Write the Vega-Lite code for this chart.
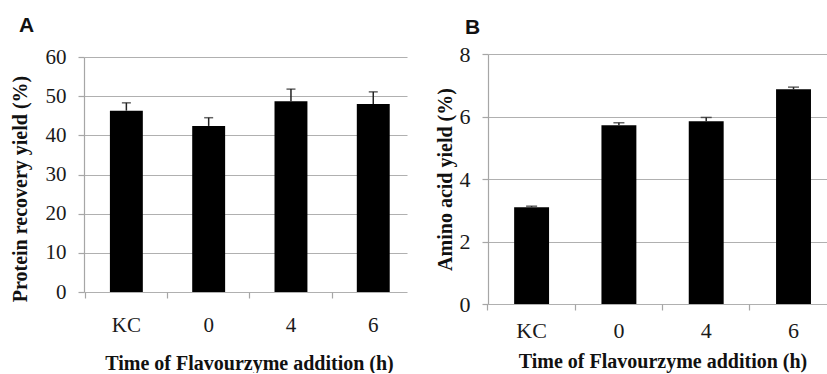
{
  "$schema": "https://vega.github.io/schema/vega-lite/v6.json",
  "background": "white",
  "padding": {"left": 10, "top": 15, "right": 0, "bottom": 0},
  "spacing": 28,
  "config": {
    "view": {"stroke": null},
    "font": "Liberation Serif",
    "axis": {
      "gridColor": "#b0b0b0", "gridWidth": 1.2,
      "domainColor": "#a6a6a6", "domainWidth": 1.2,
      "tickColor": "#a6a6a6", "tickWidth": 1.2, "tickSize": 6,
      "labelColor": "#1a1a1a", "labelFont": "Liberation Serif", "labelFontSize": 21, "labelOverlap": false,
      "titleFont": "Liberation Serif", "titleFontWeight": "bold", "titleFontSize": 20, "titleColor": "#111111"
    },
    "title": {"font": "Liberation Sans", "fontSize": 21, "fontWeight": "bold", "anchor": "start", "frame": "group", "color": "#111111"}
  },
  "hconcat": [
    {
      "title": {"text": "A", "dx": -65, "offset": 10},
      "width": 323,
      "height": 238,
      "data": {"values": [
        {"time": "KC", "mean": 46.3, "hi": 48.3},
        {"time": "0", "mean": 42.4, "hi": 44.5},
        {"time": "4", "mean": 48.7, "hi": 51.8},
        {"time": "6", "mean": 48.0, "hi": 51.1}
      ]},
      "encoding": {
        "x": {
          "field": "time", "type": "nominal", "sort": null,
          "scale": {"paddingInner": 0.6, "paddingOuter": 0.2624, "align": 0.6},
          "axis": {"bandPosition": -0.75, "labelAngle": 0, "domain": false, "grid": false,
                   "title": "Time of Flavourzyme addition (h)", "labelPadding": 16, "titlePadding": 18, "titleX": 165}
        }
      },
      "layer": [
        {
          "mark": {"type": "bar", "color": "black"},
          "encoding": {"y": {"field": "mean", "type": "quantitative",
            "scale": {"domain": [0, 60], "range": [238, 3], "nice": false},
            "axis": {"values": [0, 10, 20, 30, 40, 50, 60], "grid": true, "labelPadding": 12, "titlePadding": 15, "titleY": 134.5},
            "title": "Protein recovery yield (%)"}}
        },
        {
          "mark": {"type": "rule", "color": "#222222", "strokeWidth": 1.5},
          "encoding": {"y": {"field": "mean", "type": "quantitative", "title": "Protein recovery yield (%)",
            "axis": {"values": [0, 10, 20, 30, 40, 50, 60], "grid": true, "labelPadding": 12, "titlePadding": 15, "titleY": 134.5}},
            "y2": {"field": "hi"}}
        },
        {
          "mark": {"type": "tick", "color": "#222222", "thickness": 1.5, "size": 9},
          "encoding": {"y": {"field": "hi", "type": "quantitative", "title": "Protein recovery yield (%)",
            "axis": {"values": [0, 10, 20, 30, 40, 50, 60], "grid": true, "labelPadding": 12, "titlePadding": 15, "titleY": 134.5}}}
        }
      ]
    },
    {
      "title": {"text": "B", "dx": -23, "offset": 5},
      "width": 339,
      "height": 250,
      "data": {"values": [
        {"time": "KC", "mean": 3.10, "hi": 3.13},
        {"time": "0", "mean": 5.72, "hi": 5.80},
        {"time": "4", "mean": 5.85, "hi": 5.97},
        {"time": "6", "mean": 6.87, "hi": 6.94}
      ]},
      "encoding": {
        "x": {
          "field": "time", "type": "nominal", "sort": null,
          "scale": {"paddingInner": 0.6, "paddingOuter": 0.2415, "align": 0.62},
          "axis": {"bandPosition": -0.75, "labelAngle": 0, "domain": false, "grid": false,
                   "title": "Time of Flavourzyme addition (h)", "labelPadding": 10, "titlePadding": 10, "titleX": 174.5, "labelFontSize": 22}
        }
      },
      "layer": [
        {
          "mark": {"type": "bar", "color": "black"},
          "encoding": {"y": {"field": "mean", "type": "quantitative",
            "scale": {"domain": [0, 8], "nice": false},
            "axis": {"values": [0, 2, 4, 6, 8], "grid": true, "labelPadding": 12, "titlePadding": 4, "labelFontSize": 22},
            "title": "Amino acid yield (%)"}}
        },
        {
          "mark": {"type": "rule", "color": "#222222", "strokeWidth": 1.5},
          "encoding": {"y": {"field": "mean", "type": "quantitative", "title": "Amino acid yield (%)",
            "axis": {"values": [0, 2, 4, 6, 8], "grid": true, "labelPadding": 12, "titlePadding": 4, "labelFontSize": 22}},
            "y2": {"field": "hi"}}
        },
        {
          "mark": {"type": "tick", "color": "#222222", "thickness": 1.5, "size": 11},
          "encoding": {"y": {"field": "hi", "type": "quantitative", "title": "Amino acid yield (%)",
            "axis": {"values": [0, 2, 4, 6, 8], "grid": true, "labelPadding": 12, "titlePadding": 4, "labelFontSize": 22}}}
        }
      ]
    }
  ]
}
